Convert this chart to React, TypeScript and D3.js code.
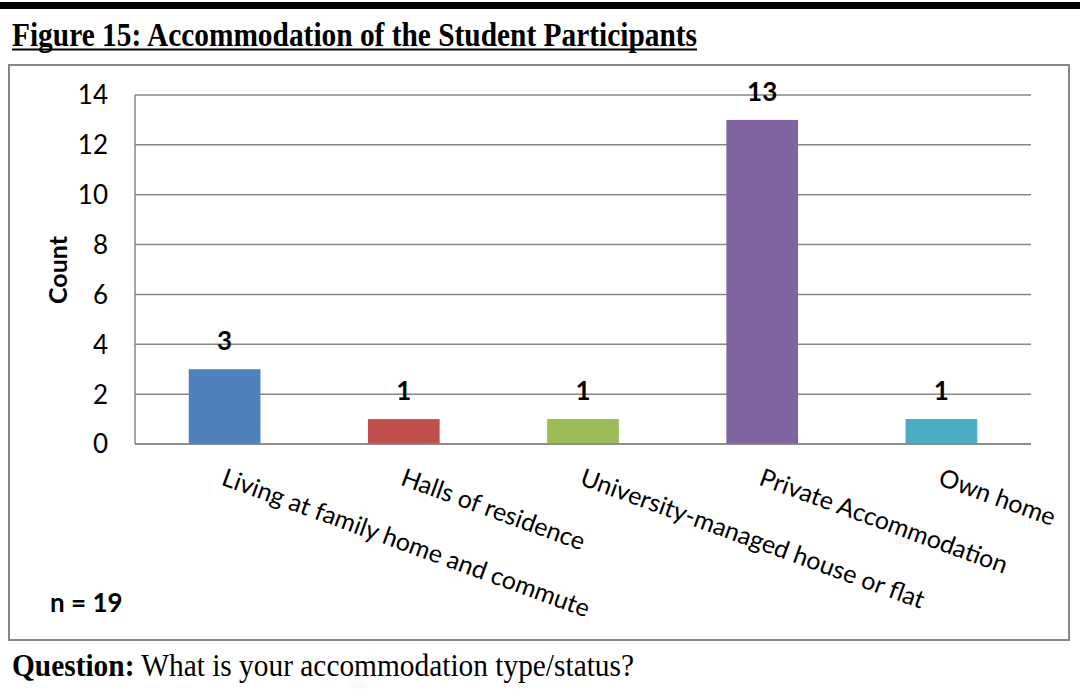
import { useEffect, useRef } from "react";
import * as d3 from "d3";

// Chart data
const categories = [
  "Living at family home and commute",
  "Halls of residence",
  "University-managed house or flat",
  "Private Accommodation",
  "Own home",
];
const counts = [3, 1, 1, 13, 1];
const barColors = ["#4F81BD", "#C0504D", "#9BBB59", "#8064A2", "#4BACC6"];
const yTicks = [0, 2, 4, 6, 8, 10, 12, 14];

const W = 1080;
const H = 698;

export default function App() {
  const svgRef = useRef<SVGSVGElement | null>(null);

  useEffect(() => {
    const svgEl = svgRef.current;
    if (!svgEl) return;
    const svg = d3.select(svgEl);
    svg.selectAll("*").remove();

    const sans = "Lato, 'Open Sans', sans-serif";
    const serif = "'Liberation Serif', 'Times New Roman', serif";
    const grey = "#868686";

    // top black rule
    svg.append("rect").attr("x", 0).attr("y", 2).attr("width", W).attr("height", 7).attr("fill", "#000");

    // figure title, underlined
    svg
      .append("text")
      .attr("x", 12)
      .attr("y", 46)
      .attr("font-family", serif)
      .attr("font-weight", 700)
      .attr("font-size", 33)
      .attr("textLength", 685)
      .attr("lengthAdjust", "spacingAndGlyphs")
      .text("Figure 15: Accommodation of the Student Participants");
    svg.append("rect").attr("x", 12).attr("y", 48.5).attr("width", 685).attr("height", 2).attr("fill", "#000");

    // chart frame
    svg
      .append("rect")
      .attr("x", 9)
      .attr("y", 65)
      .attr("width", 1060)
      .attr("height", 575)
      .attr("fill", "#fff")
      .attr("stroke", grey)
      .attr("stroke-width", 2);

    const plot = { left: 135, right: 1031, top: 95, bottom: 444 };

    const x = d3.scaleBand<string>().domain(categories).range([plot.left, plot.right]);
    const y = d3.scaleLinear().domain([0, 14]).range([plot.bottom, plot.top]);

    // gridlines
    svg
      .append("g")
      .selectAll("line")
      .data(yTicks)
      .join("line")
      .attr("x1", plot.left)
      .attr("x2", plot.right)
      .attr("y1", (d) => y(d))
      .attr("y2", (d) => y(d))
      .attr("stroke", grey)
      .attr("stroke-width", 1.5);

    // y axis line
    svg
      .append("line")
      .attr("x1", plot.left)
      .attr("x2", plot.left)
      .attr("y1", y(14))
      .attr("y2", y(0))
      .attr("stroke", grey)
      .attr("stroke-width", 1.5);

    // y tick labels
    svg
      .append("g")
      .selectAll("text")
      .data(yTicks)
      .join("text")
      .attr("x", 108)
      .attr("y", (d) => y(d))
      .attr("dy", "0.36em")
      .attr("text-anchor", "end")
      .attr("font-family", sans)
      .attr("font-size", 26)
      .attr("fill", "#000")
      .text((d) => d);

    // bars
    const barW = x.bandwidth() * 0.4;
    const data = categories.map((c, i) => ({ c, v: counts[i], color: barColors[i] }));

    svg
      .append("g")
      .selectAll("rect")
      .data(data)
      .join("rect")
      .attr("x", (d) => x(d.c)! + x.bandwidth() / 2 - barW / 2)
      .attr("y", (d) => y(d.v))
      .attr("width", barW)
      .attr("height", (d) => y(0) - y(d.v))
      .attr("fill", (d) => d.color);

    // redraw baseline over bars
    svg
      .append("line")
      .attr("x1", plot.left)
      .attr("x2", plot.right)
      .attr("y1", y(0))
      .attr("y2", y(0))
      .attr("stroke", grey)
      .attr("stroke-width", 1.5);

    // value labels
    svg
      .append("g")
      .selectAll("text")
      .data(data)
      .join("text")
      .attr("x", (d) => x(d.c)! + x.bandwidth() / 2)
      .attr("y", (d) => y(d.v) - 19)
      .attr("text-anchor", "middle")
      .attr("font-family", sans)
      .attr("font-weight", 700)
      .attr("font-size", 26)
      .attr("fill", "#000")
      .text((d) => d.v);

    // rotated category labels
    svg
      .append("g")
      .selectAll("text")
      .data(categories)
      .join("text")
      .attr("transform", (d) => `translate(${x(d)! + x.bandwidth() / 2 + 2},467) rotate(20)`)
      .attr("dy", "0.74em")
      .attr("text-anchor", "start")
      .attr("font-family", sans)
      .attr("font-size", 25)
      .attr("fill", "#000")
      .text((d) => d);

    // y axis title
    svg
      .append("text")
      .attr("transform", "translate(67,270) rotate(-90)")
      .attr("text-anchor", "middle")
      .attr("font-family", sans)
      .attr("font-weight", 700)
      .attr("font-size", 25)
      .text("Count");

    // sample size
    svg
      .append("text")
      .attr("x", 50)
      .attr("y", 612)
      .attr("font-family", sans)
      .attr("font-weight", 700)
      .attr("font-size", 26)
      .text("n = 19");

    // question footnote
    const q = svg
      .append("text")
      .attr("x", 12)
      .attr("y", 676)
      .attr("font-family", serif)
      .attr("font-size", 32)
      .attr("textLength", 622)
      .attr("lengthAdjust", "spacingAndGlyphs");
    q.append("tspan").attr("font-weight", 700).text("Question:");
    q.append("tspan").text(" What is your accommodation type/status?");
  }, []);

  return (
    <svg
      ref={svgRef}
      width={W}
      height={H}
      style={{ position: "absolute", left: 0, top: 0, background: "#fff" }}
    />
  );
}
